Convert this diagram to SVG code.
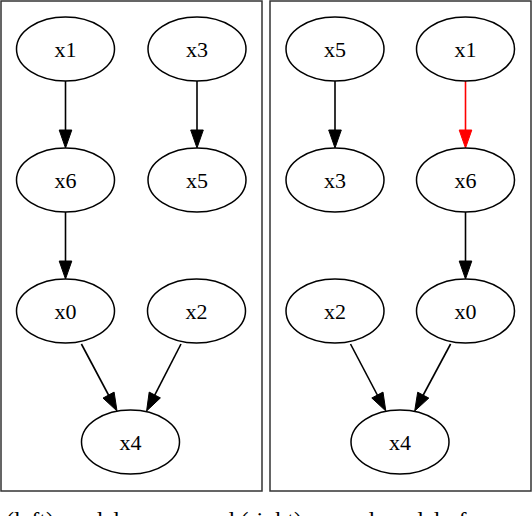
<svg xmlns="http://www.w3.org/2000/svg" width="532" height="516" viewBox="0 0 532 516">
<style>
.panel{fill:none;stroke:#333;stroke-width:1.5}
.node ellipse{fill:none;stroke:#000;stroke-width:1.5}
.node text{font-family:"Liberation Serif","Times New Roman",serif;font-size:22px;text-anchor:middle;fill:#000}
.edge line{stroke:#000;stroke-width:1.6}
.edge polygon{fill:#000;stroke:#000;stroke-width:1}
.red line{stroke:#f00}
.red polygon{fill:#f00;stroke:#f00}
.caption{font-family:"Liberation Serif","Times New Roman",serif;font-size:24px;fill:#000}
</style>
<rect class="panel" x="1" y="1" width="261" height="490"/>
<rect class="panel" x="270" y="1" width="261" height="490"/>
<g id="connectors">
  <g class="edge" id="L_x1_x6"><line x1="65.5" y1="81" x2="65.5" y2="131"/><polygon points="65.5,148 59.2,130 71.8,130"/></g>
  <g class="edge" id="L_x3_x5"><line x1="197" y1="81" x2="197" y2="131"/><polygon points="197,148 190.7,130 203.3,130"/></g>
  <g class="edge" id="L_x6_x0"><line x1="65.5" y1="212" x2="65.5" y2="262"/><polygon points="65.5,279 59.2,261 71.8,261"/></g>
  <g class="edge" id="L_x0_x4"><line x1="81.4" y1="344" x2="108.8" y2="395.5"/><polygon points="117,411 103,398.1 114.1,392.1"/></g>
  <g class="edge" id="L_x2_x4"><line x1="181" y1="344" x2="154.6" y2="395.4"/><polygon points="146.6,411 149.2,392.1 160.4,397.9"/></g>
  <g class="edge" id="R_x5_x3"><line x1="335" y1="81" x2="335" y2="131"/><polygon points="335,148 328.7,130 341.3,130"/></g>
  <g class="edge red" id="R_x1_x6"><line x1="465.5" y1="81" x2="465.5" y2="131"/><polygon points="465.5,148 459.2,130 471.8,130"/></g>
  <g class="edge" id="R_x6_x0"><line x1="465.5" y1="212" x2="465.5" y2="262"/><polygon points="465.5,279 459.2,261 471.8,261"/></g>
  <g class="edge" id="R_x2_x4"><line x1="350.5" y1="344" x2="377.6" y2="395.5"/><polygon points="385.8,411 371.8,398 383,392.1"/></g>
  <g class="edge" id="R_x0_x4"><line x1="450.6" y1="344" x2="423" y2="395.5"/><polygon points="414.7,411 417.7,392.2 428.8,398.1"/></g>
</g>
<g class="node" id="L_x1"><ellipse cx="65.5" cy="49" rx="49" ry="32"/><text x="65.5" y="56.5">x1</text></g>
<g class="node" id="L_x3"><ellipse cx="197" cy="49" rx="49" ry="32"/><text x="197" y="56.5">x3</text></g>
<g class="node" id="L_x6"><ellipse cx="65.5" cy="180" rx="49" ry="32"/><text x="65.5" y="187.5">x6</text></g>
<g class="node" id="L_x5"><ellipse cx="197" cy="180" rx="49" ry="32"/><text x="197" y="187.5">x5</text></g>
<g class="node" id="L_x0"><ellipse cx="65.5" cy="311" rx="49" ry="32"/><text x="65.5" y="318.5">x0</text></g>
<g class="node" id="L_x2"><ellipse cx="196.5" cy="311" rx="49" ry="32"/><text x="196.5" y="318.5">x2</text></g>
<g class="node" id="L_x4"><ellipse cx="130.5" cy="442" rx="49" ry="32"/><text x="130.5" y="449.5">x4</text></g>
<g class="node" id="R_x5"><ellipse cx="335" cy="49" rx="49" ry="32"/><text x="335" y="56.5">x5</text></g>
<g class="node" id="R_x1"><ellipse cx="465.5" cy="49" rx="49" ry="32"/><text x="465.5" y="56.5">x1</text></g>
<g class="node" id="R_x3"><ellipse cx="335" cy="180" rx="49" ry="32"/><text x="335" y="187.5">x3</text></g>
<g class="node" id="R_x6"><ellipse cx="465.5" cy="180" rx="49" ry="32"/><text x="465.5" y="187.5">x6</text></g>
<g class="node" id="R_x2"><ellipse cx="335" cy="311" rx="49" ry="32"/><text x="335" y="318.5">x2</text></g>
<g class="node" id="R_x0"><ellipse cx="465.5" cy="311" rx="49" ry="32"/><text x="465.5" y="318.5">x0</text></g>
<g class="node" id="R_x4"><ellipse cx="400" cy="442" rx="49" ry="32"/><text x="400" y="449.5">x4</text></g>
<text class="caption" x="6" y="528">(left) model answer and (right) second model of</text>
</svg>
